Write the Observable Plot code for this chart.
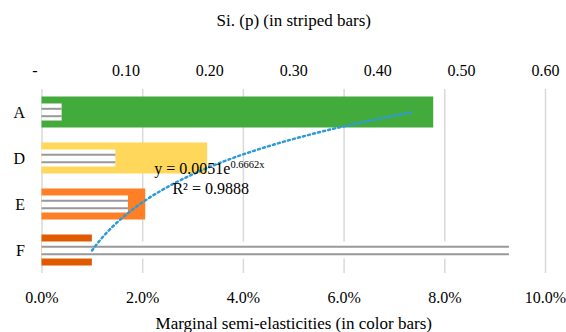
<!DOCTYPE html>
<html>
<head>
<meta charset="utf-8">
<script src="https://cdn.jsdelivr.net/npm/d3@7"></script>
<script src="https://cdn.jsdelivr.net/npm/@observablehq/plot@0.6"></script>
<style>
  html, body { margin: 0; padding: 0; background: #fff; }
  svg text { font-family: "Liberation Serif", serif !important; }
</style>
</head>
<body>
<div id="chart"></div>
<script>
// ---- data ----
const categories = ["A", "D", "E", "F"];                       // top to bottom
const marginalSemiElasticities = [0.0778, 0.0329, 0.0206, 0.0100]; // colour bars
const siP = [0.024, 0.088, 0.103, 0.557];                      // striped bars
const barColors = ["#43ab3c", "#ffd75a", "#ff7f27", "#e05a00"];
const bottomTicks = [0, 0.02, 0.04, 0.06, 0.08, 0.10];
const topTicks = [0, 0.1, 0.2, 0.3, 0.4, 0.5, 0.6];
const trendCoefA = 0.0051;
const trendCoefB = 0.6662;
const trendR2 = 0.9888;

const FONT = "Liberation Serif";
const xMax = bottomTicks[bottomTicks.length - 1];
const siMax = topTicks[topTicks.length - 1];
const siToX = xMax / siMax;
const n = categories.length;

const rows = categories.map((c, i) => ({
  cat: c,
  pos: n - i,
  me: marginalSemiElasticities[i],
  si: siP[i],
  color: barColors[i]
}));

// exponential trendline as displayed (x = category index, bottom = 1)
const trend = d3.range(1, n + 0.001, 0.05).map(t => ({pos: t, v: trendCoefA * Math.exp(trendCoefB * t)}));

const colorHalf = 0.337, stripeHalf = 0.185;
const eqText = `y = ${trendCoefA}e`;
const r2Text = `R² = ${trendR2}`;

const chart = Plot.plot({
  width: 566,
  height: 332,
  marginTop: 89,
  marginBottom: 59,
  marginLeft: 41.5,
  marginRight: 21,
  style: {fontFamily: FONT, fontSize: "16px", color: "#000", background: "#fff"},
  x: {domain: [0, xMax]},
  y: {domain: [0.5, n + 0.5]},
  marks: [
    Plot.ruleX(bottomTicks, {stroke: "#d9d9d9", strokeWidth: 1.5}),
    Plot.rectX(rows, {x1: 0, x2: "me", y1: d => d.pos - colorHalf, y2: d => d.pos + colorHalf, fill: "color"}),
    Plot.rectX(rows, {x1: 0, x2: d => d.si * siToX, y1: d => d.pos - stripeHalf, y2: d => d.pos + stripeHalf, fill: "#fff"}),
    Plot.ruleY(rows, {y: "pos", x1: 0, x2: d => d.si * siToX, dy: -3.7, stroke: "#999", strokeWidth: 2}),
    Plot.ruleY(rows, {y: "pos", x1: 0, x2: d => d.si * siToX, dy: 3.7, stroke: "#999", strokeWidth: 2}),
    Plot.line(trend, {x: "v", y: "pos", stroke: "#2e9bd6", strokeWidth: 2.5, strokeDasharray: "2,3.2"}),
    Plot.text([eqText], {x: 0.0223, y: 2.78, text: d => d, textAnchor: "start", fill: "#000", fontFamily: FONT, fontSize: 16}),
    Plot.text([r2Text], {x: 0.0259, y: 2.33, text: d => d, textAnchor: "start", fill: "#000", fontFamily: FONT, fontSize: 16}),
    Plot.axisX({anchor: "bottom", ticks: bottomTicks, tickFormat: d => (d * 100).toFixed(1) + "%", tickSize: 0, tickPadding: 18, label: null, fontFamily: FONT, fontSize: 16}),
    Plot.axisX({anchor: "top", ticks: topTicks.map(t => t * siToX), tickFormat: d => { const v = d / siToX; return Math.abs(v) < 1e-9 ? "-" : v.toFixed(2); }, tickSize: 0, tickPadding: 14, label: null, fontFamily: FONT, fontSize: 16}),
    Plot.axisY({ticks: rows.map(r => r.pos), tickFormat: p => categories[n - p], tickSize: 0, tickPadding: 17, label: null, fontFamily: FONT, fontSize: 16}),
    Plot.text(["Si. (p) (in striped bars)"], {frameAnchor: "top", lineAnchor: "middle", dy: -69, text: d => d, fontFamily: FONT, fontSize: 17}),
    Plot.text(["Marginal semi-elasticities (in color bars)"], {frameAnchor: "bottom", lineAnchor: "middle", dy: 50, text: d => d, fontFamily: FONT, fontSize: 17})
  ]
});

// superscript exponent of the trend equation
d3.select(chart).selectAll("text").filter(function() { return this.textContent === eqText; })
  .append("tspan").attr("dy", "-0.55em").attr("font-size", "10.5px").text(`${trendCoefB}x`);

// accounting-style "-" for zero sits slightly left, as in the reference
d3.select(chart).selectAll("text").filter(function() { return this.textContent === "-"; })
  .attr("dx", -7);

document.getElementById("chart").appendChild(chart);
</script>
</body>
</html>
